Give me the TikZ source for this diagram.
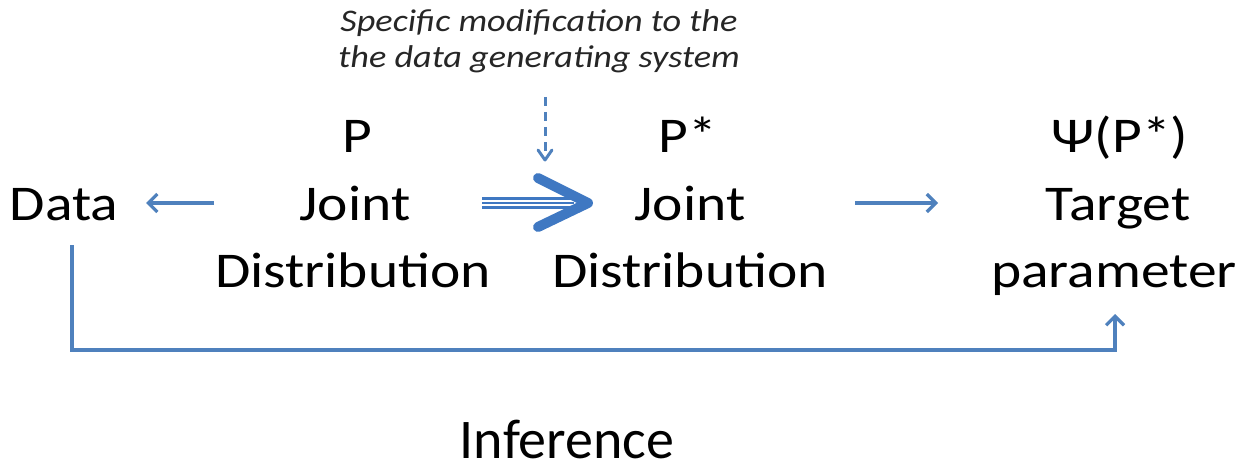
\documentclass[tikz,border=0pt]{standalone}
\usepackage{fontspec}
\setmainfont{Carlito}[FakeStretch=1.15]
\newfontfamily\plainfont{Carlito}
\usetikzlibrary{arrows.meta,calc}
\definecolor{arrblue}{HTML}{4F81BD}
\definecolor{bigblue}{HTML}{3F78C2}
\begin{document}
\begin{tikzpicture}[x=1pt,y=-1pt,
  big/.style={font=\fontsize{50}{60}\selectfont,anchor=base,inner sep=0pt,text=black},
  infstyle/.style={font=\plainfont\fontsize{56}{60}\selectfont,anchor=base,inner sep=0pt,text=black},
  hdr/.style={font=\fontsize{31.5}{36}\selectfont\itshape,anchor=base,inner sep=0pt,text=black!85},
  thin/.style={draw=arrblue,line width=3.2pt,-{Straight Barb[length=9pt,width=18pt,line width=3.2pt]}},
  conn/.style={draw=arrblue,line width=3.2pt}]
\useasboundingbox (0,0) rectangle (1241,468);
% header
\node[hdr] (h1) at (539,32) {Specific modification to the};
\node[hdr] (h2) at (539,68) {the data generating system};
% column 1
\node[big] (P) at (357,152) {P};
\node[big] (J1) at (355,220) {Joint};
\node[big] (D1) at (353,287) {Distribution};
% data
\node[big] (data) at (64,220) {Data};
% column 2
\node[big] (Ps) at (688,152) {P*};
\node[big] (J2) at (690,220) {Joint};
\node[big] (D2) at (690,287) {Distribution};
% column 3
\node[big] (psi) at (1120,152) {Ψ(P*)};
\node[big] (tg) at (1118,220) {Target};
\node[big] (par) at (1114,287) {parameter};
% inference
\node[infstyle] (inf) at (567,458) {Inference};
% arrow end coordinates
\coordinate (a1s) at (214,203);
\coordinate (a1e) at (146,203);
\coordinate (a2s) at (855,203);
\coordinate (a2e) at (938,203);
\coordinate (ds) at (545,97);
\coordinate (de) at (545,160);
\coordinate (ts) at (482,203);
\coordinate (tt) at (588,203);
\coordinate (i1) at (72,245);
\coordinate (i2) at (72,350);
\coordinate (i3) at (1115,350);
\coordinate (i4) at (1115,314);
% thin arrows
\draw[thin] (a1s) -- (a1e);
\draw[thin] (a2s) -- (a2e);
% dashed arrow
\draw[draw=arrblue,line width=3pt,dash pattern=on 9pt off 6pt] (ds) -- ($(de)+(0,-4)$);
\draw[draw=arrblue,line width=3pt,line cap=round,line join=round] ($(de)+(-7,-10)$) -- (de) -- ($(de)+(7,-10)$);
% triple arrow
\foreach \o in {-4.5,0,4.5}
  \draw[draw=bigblue,line width=2.8pt] ($(ts)+(0,\o)$) -- ($(tt)+(-14,\o)$);
\draw[draw=bigblue,line width=10pt,line cap=round,line join=round] ($(tt)+(-50,-25)$) -- (tt) -- ($(tt)+(-50,24)$);
% inference connector
\draw[conn,-{Straight Barb[length=9pt,width=18pt,line width=3.2pt]}] (i1) -- (i2) -- (i3) -- (i4);
\end{tikzpicture}
\end{document}
